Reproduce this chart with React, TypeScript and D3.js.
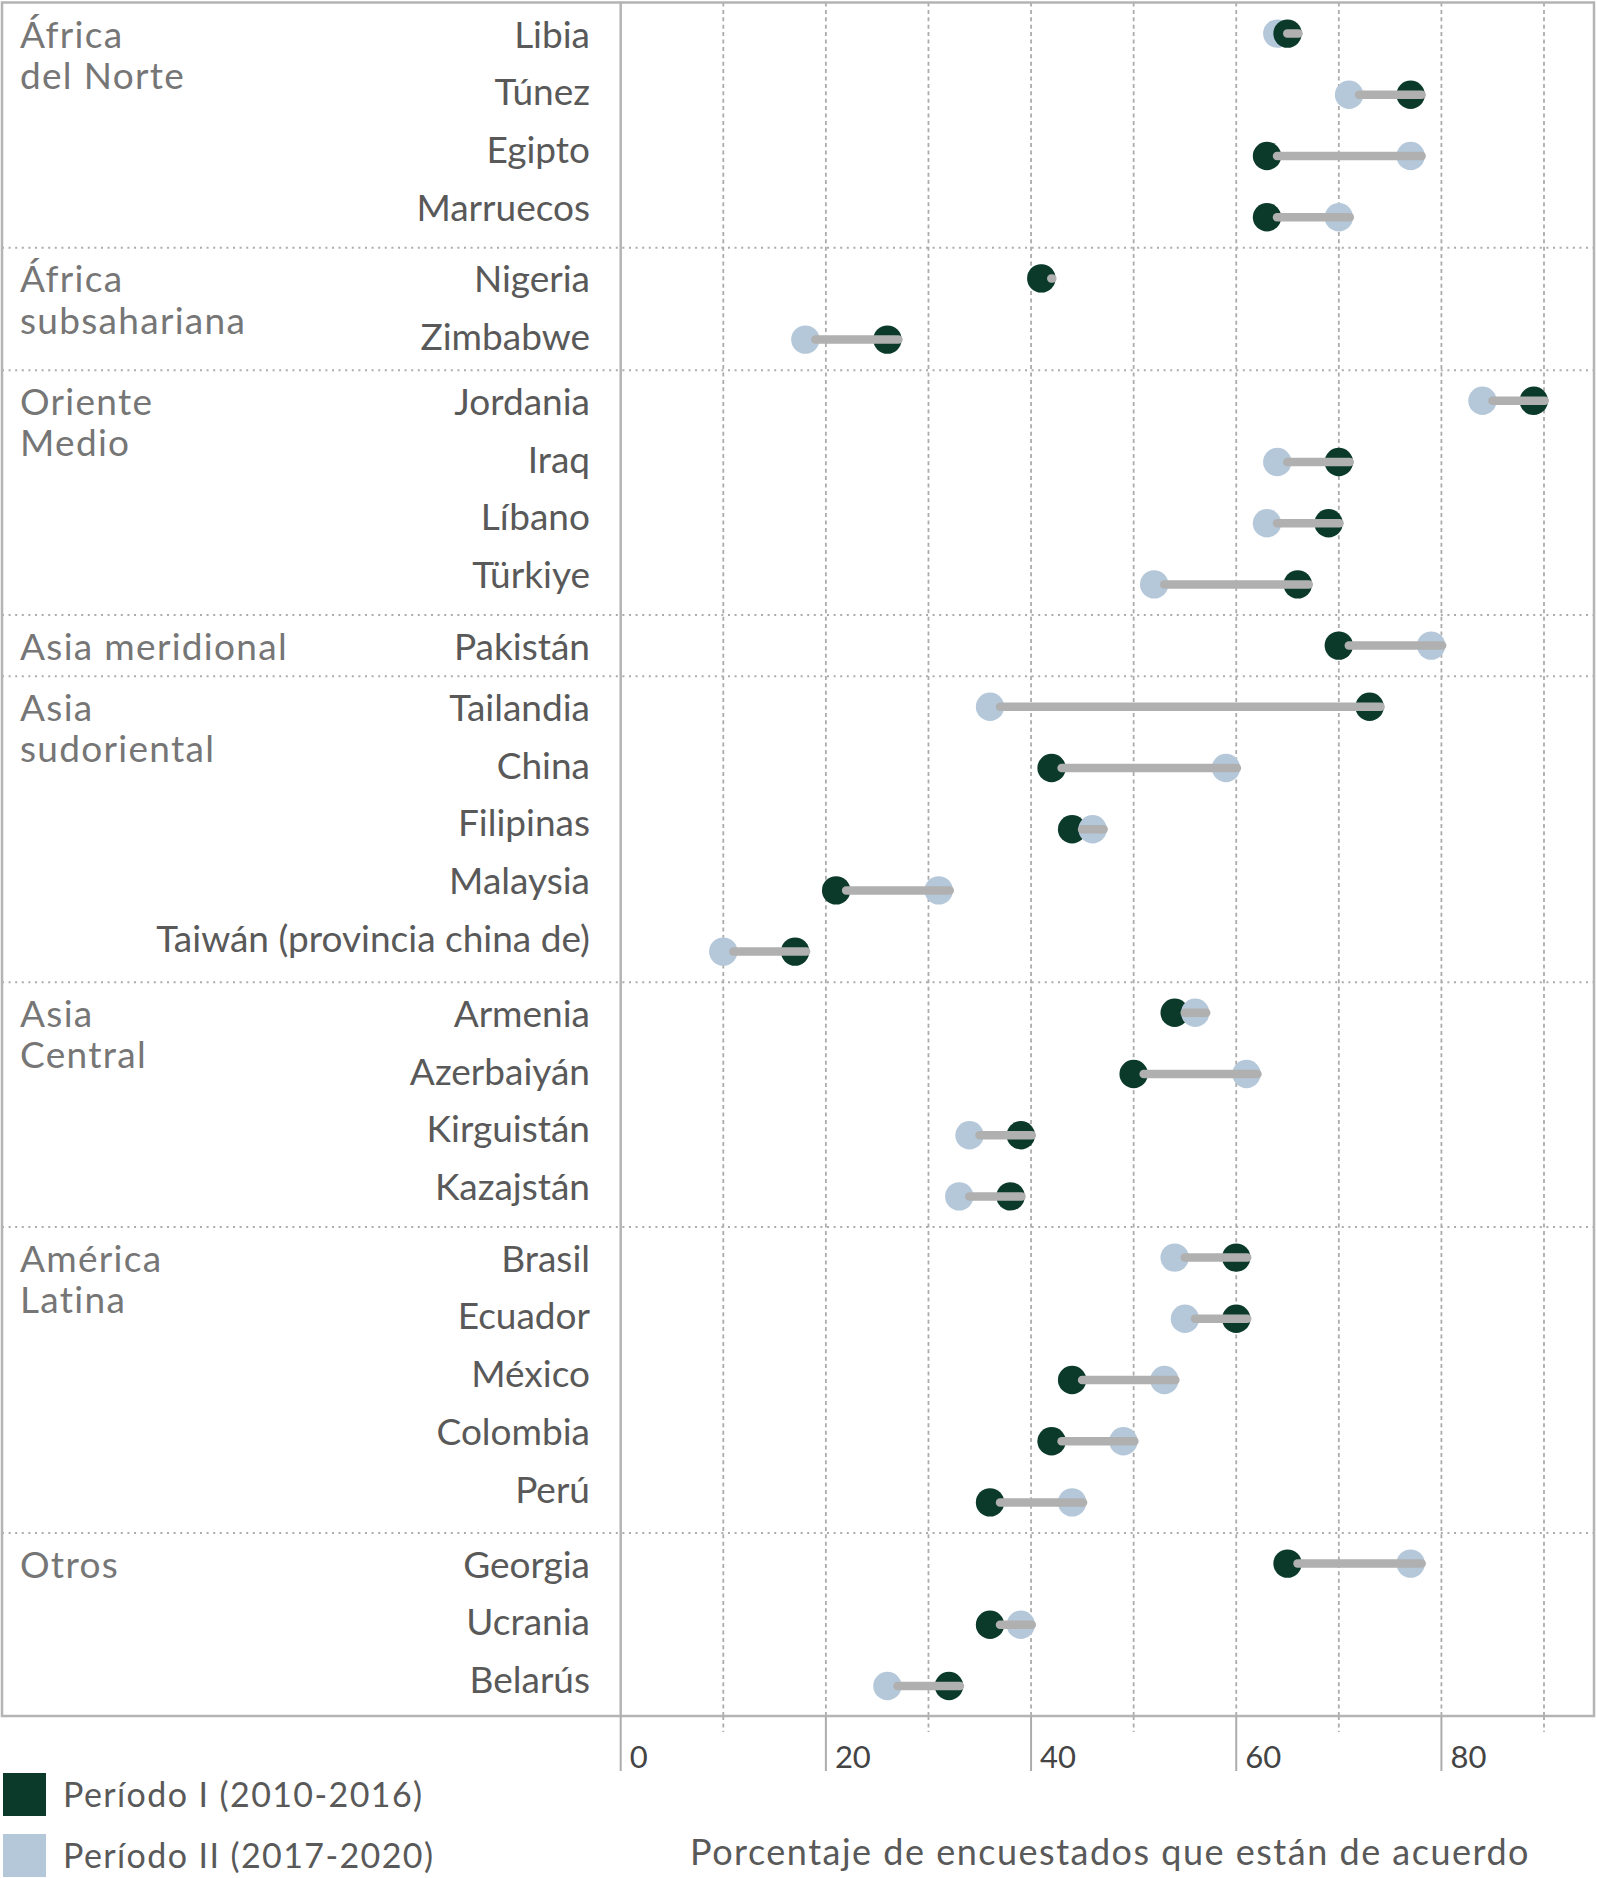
import React from "react";
import * as d3 from "d3";

const countries = [
  "Libia", "Túnez", "Egipto", "Marruecos",
  "Nigeria", "Zimbabwe",
  "Jordania", "Iraq", "Líbano", "Türkiye",
  "Pakistán",
  "Tailandia", "China", "Filipinas", "Malaysia", "Taiwán (provincia china de)",
  "Armenia", "Azerbaiyán", "Kirguistán", "Kazajstán",
  "Brasil", "Ecuador", "México", "Colombia", "Perú",
  "Georgia", "Ucrania", "Belarús",
];

const regions = [
  "África del Norte", "África del Norte", "África del Norte", "África del Norte",
  "África subsahariana", "África subsahariana",
  "Oriente Medio", "Oriente Medio", "Oriente Medio", "Oriente Medio",
  "Asia meridional",
  "Asia sudoriental", "Asia sudoriental", "Asia sudoriental", "Asia sudoriental", "Asia sudoriental",
  "Asia Central", "Asia Central", "Asia Central", "Asia Central",
  "América Latina", "América Latina", "América Latina", "América Latina", "América Latina",
  "Otros", "Otros", "Otros",
];

const regionLabels: [string, string[]][] = [
  ["África del Norte", ["África", "del Norte"]],
  ["África subsahariana", ["África", "subsahariana"]],
  ["Oriente Medio", ["Oriente", "Medio"]],
  ["Asia meridional", ["Asia meridional"]],
  ["Asia sudoriental", ["Asia", "sudoriental"]],
  ["Asia Central", ["Asia", "Central"]],
  ["América Latina", ["América", "Latina"]],
  ["Otros", ["Otros"]],
];

const periodI = [65, 77, 63, 63, 41, 26, 89, 70, 69, 66, 70, 73, 42, 44, 21, 17, 54, 50, 39, 38, 60, 60, 44, 42, 36, 65, 36, 32];
const periodII = [64, 71, 77, 70, 41, 18, 84, 64, 63, 52, 79, 36, 59, 46, 31, 10, 56, 61, 34, 33, 54, 55, 53, 49, 44, 77, 39, 26];

const xTicks = [0, 10, 20, 30, 40, 50, 60, 70, 80, 90];
const xTickLabels = ["0", "20", "40", "60", "80"];
const legendItems = ["Período I (2010-2016)", "Período II (2017-2020)"];
const axisTitle = "Porcentaje de encuestados que están de acuerdo";

const W = 1597;
const H = 1878;
const DARK = "#0b3a2b";
const LIGHT = "#b5c8da";
const BAR = "#b0b0b0";
const FRAME = "#b4b4b4";
const GRID = "#acacac";
const TEXT = "#595959";
const GROUPTEXT = "#767676";
const FONT = "Lato, 'Open Sans', sans-serif";

export default function App() {
  const top = 2.5;
  const bottom = 1716;
  const left = 2;
  const right = 1594;
  const x = d3.scaleLinear().domain([0, 90]).range([620.7, 1544]);
  const y = d3.scaleBand<string>().domain(countries).range([3, 1716.6]).padding(0);
  const bw = y.bandwidth();
  const cy = (c: string) => (y(c) as number) + bw / 2;
  const labelPitch = bw * 0.945;

  const groupStarts: number[] = [];
  regions.forEach((r, i) => {
    if (i === 0 || regions[i - 1] !== r) groupStarts.push(i);
  });

  const labelBase: number[] = countries.map((c, i) => {
    let gs = i;
    while (gs > 0 && regions[gs - 1] === regions[i]) gs--;
    return cy(countries[gs]) + (i - gs) * labelPitch + 14;
  });

  return (
    <svg
      width={W}
      height={H}
      viewBox={`0 0 ${W} ${H}`}
      style={{ position: "absolute", left: 0, top: 0, background: "#fff" }}
      fontFamily={FONT}
    >
      <rect x={0} y={0} width={W} height={H} fill="#fff" />
      {xTicks.filter((t) => t > 0).map((t) => (
        <line key={"g" + t} x1={x(t)} x2={x(t)} y1={top} y2={bottom}
          stroke={GRID} strokeWidth={1.8} strokeDasharray="4,3.4" />
      ))}
      {groupStarts.filter((i) => i > 0).map((i) => (
        <line key={"s" + i} x1={left} x2={right} y1={y(countries[i]) as number} y2={y(countries[i]) as number}
          stroke={GRID} strokeWidth={2} strokeDasharray="2,4.6" />
      ))}
      <rect x={left} y={top} width={right - left} height={bottom - top} fill="none" stroke={FRAME} strokeWidth={2.5} />
      <line x1={x(0)} x2={x(0)} y1={top} y2={bottom} stroke={FRAME} strokeWidth={2.5} />
      {xTicks.map((t) => {
        const major = t % 20 === 0;
        return (
          <line key={"t" + t} x1={x(t)} x2={x(t)} y1={bottom} y2={major ? 1771 : 1732}
            stroke={GRID} strokeWidth={major ? 2 : 1.8} strokeDasharray={major ? undefined : "4,3.4"} />
        );
      })}
      {xTickLabels.map((l) => (
        <text key={"tl" + l} x={x(+l) + 9} y={1768} fontSize={31} fill="#444" textAnchor="start">{l}</text>
      ))}
      {countries.map((c, i) => {
        const a = periodI[i];
        const b = periodII[i];
        const yy = cy(c);
        const lo = Math.min(a, b);
        const hi = Math.max(a, b);
        const leftIsDark = a < b;
        const first = leftIsDark ? { v: a, col: DARK } : { v: b, col: LIGHT };
        const second = leftIsDark ? { v: b, col: LIGHT } : { v: a, col: DARK };
        return (
          <g key={"d" + c}>
            <circle cx={x(first.v)} cy={yy} r={14.2} fill={first.col} />
            <circle cx={x(second.v)} cy={yy} r={14.2} fill={second.col} />
            <line x1={x(lo) + 10} x2={x(hi) + 11} y1={yy} y2={yy} stroke={BAR} strokeWidth={8.5} strokeLinecap="round" />
          </g>
        );
      })}
      {countries.map((c, i) => (
        <text key={"l" + c} x={590} y={labelBase[i]} fontSize={37} fill={TEXT} textAnchor="end">{c}</text>
      ))}
      {regionLabels.map(([r, lines]) => {
        const idx = regions.indexOf(r);
        return (
          <text key={"r" + r} x={20} y={labelBase[idx]} fontSize={37} fill={GROUPTEXT} letterSpacing={1.3}>
            {lines.map((ln, k) => (
              <tspan key={k} x={20} y={labelBase[idx] + k * 41.5}>{ln}</tspan>
            ))}
          </text>
        );
      })}
      {legendItems.map((l, k) => (
        <g key={"lg" + k}>
          <rect x={3} y={1773 + k * 61} width={43} height={43} fill={k === 0 ? DARK : LIGHT} />
          <text x={63} y={1807 + k * 61} fontSize={34} fill={TEXT} letterSpacing={1.4}>{l}</text>
        </g>
      ))}
      <text x={1110} y={1865} fontSize={36} fill={TEXT} textAnchor="middle" letterSpacing={1.5}>{axisTitle}</text>
    </svg>
  );
}
